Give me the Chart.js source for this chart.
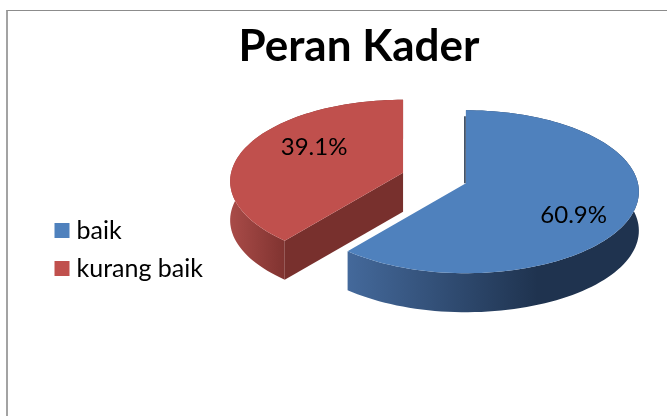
<!DOCTYPE html>
<html>
<head>
<meta charset="utf-8">
<script src="https://cdn.jsdelivr.net/npm/chart.js@4"></script>
<style>
  html, body { margin: 0; padding: 0; background: #fff; overflow: hidden; }
  #frame {
    position: absolute; left: 6px; top: 10px; width: 661px; height: 406px;
    border-left: 2px solid #a3a3a3; border-top: 1px solid #8c8c8c; overflow: hidden;
  }
  canvas { display: block; }
</style>
</head>
<body>
<div id="frame"><canvas id="chart" width="663" height="477"></canvas></div>
<script>
var categories = ['baik', 'kurang baik']
var values = [60.9, 39.1]
var sliceColors = ['#4f81bd', '#c0504d']
var chartTitle = 'Peran Kader'

// tilted view of the pie, canvas pixels
var view = { cx: 426.5, cy: 167, rx: 172, ry: 80.6, persp: 0.104, depth: 39, explode: 0.194, step: 2 }
var sideColors = [['#44699b', '#1f334f'], ['#a94b48', '#7c312e']]
var cutColors = ['#1c2f49', '#78302d']
var labelPlace = [{ r: 0.65, dy: 14 }, { r: 0.56, dy: -11 }]

// point on the rim of a slice, theta measured clockwise from the top
function rimPoint(apex, theta, r) {
  var w = 1 + view.persp * r * Math.cos(theta)
  return {
    x: apex.x + view.rx * r * Math.sin(theta) / w,
    y: apex.y - view.ry * r * Math.cos(theta) / w
  }
}

function sliceApex(arc) {
  var mid = (arc.startAngle + arc.endAngle) / 2 + Math.PI / 2
  return {
    x: view.cx + view.rx * view.explode * Math.sin(mid),
    y: view.cy - view.ry * view.explode * Math.cos(mid)
  }
}

function tracePoints(ctx, pts) {
  ctx.beginPath()
  pts.forEach(function(p, i) {
    if (i == 0) ctx.moveTo(p.x, p.y)
    else ctx.lineTo(p.x, p.y)
  })
  ctx.closePath()
}

var pie3d = {
  id: 'pie3d',
  beforeDatasetsDraw: function(chart) {
    var ctx = chart.ctx
    var arcs = chart.getDatasetMeta(0).data
    arcs.forEach(function(arc, i) {
      var a0 = arc.startAngle + Math.PI / 2
      var a1 = arc.endAngle + Math.PI / 2
      var apex = sliceApex(arc)
      var rim = []
      var n = Math.ceil((a1 - a0) * 180 / Math.PI / view.step)
      for (var k = 0; k <= n; k++) rim.push(rimPoint(apex, a0 + (a1 - a0) * k / n, 1))
      var lower = rim.map(function(p) { return { x: p.x, y: p.y + view.depth } }).reverse()

      // outer wall
      var xs = rim.map(function(p) { return p.x })
      var minX = Math.min.apply(null, xs)
      var grad = ctx.createLinearGradient(minX, 0, minX + (i == 0 ? 190 : 60), 0)
      grad.addColorStop(0, sideColors[i][0])
      grad.addColorStop(1, sideColors[i][1])
      ctx.fillStyle = grad
      tracePoints(ctx, rim.concat(lower))
      ctx.fill()

      // cut faces that look towards the viewer
      ctx.fillStyle = cutColors[i]
      var first = rim[0], last = rim[rim.length - 1]
      if (Math.sin(a0) < -0.01) {
        tracePoints(ctx, [apex, first, { x: first.x, y: first.y + view.depth }, { x: apex.x, y: apex.y + view.depth }])
        ctx.fill()
      }
      if (Math.sin(a1) > 0.01) {
        tracePoints(ctx, [apex, last, { x: last.x, y: last.y + view.depth }, { x: apex.x, y: apex.y + view.depth }])
        ctx.fill()
      }

      // top
      ctx.fillStyle = arc.options.backgroundColor
      tracePoints(ctx, [apex].concat(rim))
      ctx.fill()

      // thin edge of the face that is almost side on
      if (Math.abs(Math.sin(a0)) <= 0.01) {
        ctx.strokeStyle = cutColors[i]
        ctx.lineWidth = 1.5
        ctx.beginPath()
        ctx.moveTo(first.x - 1, first.y + 6)
        ctx.lineTo(apex.x - 1, apex.y)
        ctx.stroke()
      }
    })
    return false
  },
  afterDraw: function(chart) {
    var ctx = chart.ctx
    var arcs = chart.getDatasetMeta(0).data
    ctx.save()
    ctx.fillStyle = '#000'
    ctx.font = '24px Lato'
    ctx.textAlign = 'center'
    ctx.textBaseline = 'middle'
    arcs.forEach(function(arc, i) {
      var mid = (arc.startAngle + arc.endAngle) / 2 + Math.PI / 2
      var p = rimPoint(sliceApex(arc), mid, labelPlace[i].r)
      ctx.fillText(values[i].toFixed(1) + '%', p.x, p.y + labelPlace[i].dy)
    })
    ctx.restore()
  }
}

new Chart(document.getElementById('chart'), {
  type: 'pie',
  data: {
    labels: categories,
    datasets: [{ data: values, backgroundColor: sliceColors, borderWidth: 0 }]
  },
  plugins: [pie3d],
  options: {
    responsive: false,
    animation: false,
    layout: { padding: { left: 39, right: 0, top: 0, bottom: 0 } },
    plugins: {
      tooltip: { enabled: false },
      title: {
        display: true,
        text: chartTitle,
        color: '#000',
        font: { family: 'Lato', size: 44, weight: 'bold' },
        padding: { top: 9, bottom: 8 }
      },
      legend: {
        position: 'left',
        labels: {
          color: '#000',
          font: { family: 'Lato', size: 25 },
          padding: 13,
          boxWidth: 4,
          boxHeight: 4,
          // wide stroke makes the 15px square and keeps the text close to it
          generateLabels: function(chart) {
            return Chart.overrides.pie.plugins.legend.labels.generateLabels(chart).map(function(item) {
              item.strokeStyle = item.fillStyle
              item.lineWidth = 11
              return item
            })
          }
        }
      }
    }
  }
})
</script>
</body>
</html>
